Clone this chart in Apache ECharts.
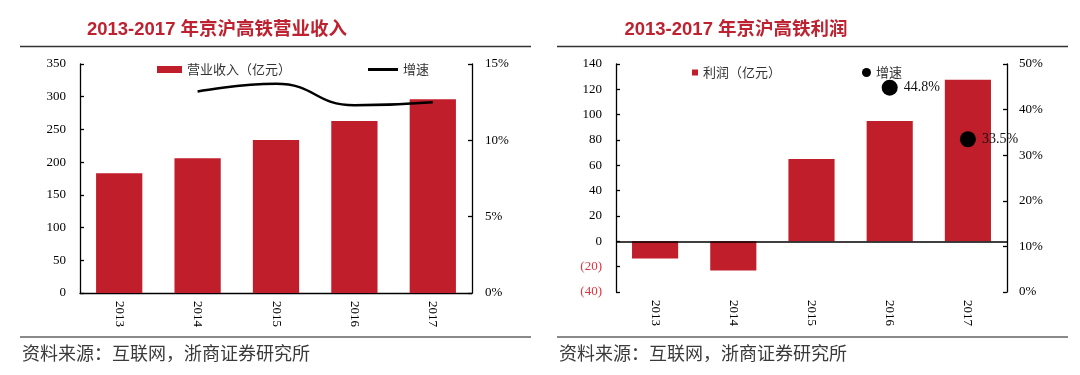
<!DOCTYPE html>
<html>
<head>
<meta charset="utf-8">
<script src="https://cdn.jsdelivr.net/npm/echarts@6/dist/echarts.min.js"></script>
<style>
html,body{margin:0;padding:0;background:#fff;}
#wrap{position:relative;width:1080px;height:375px;}
#c1{position:absolute;left:0;top:0;width:540px;height:375px;}
#c2{position:absolute;left:540px;top:0;width:540px;height:375px;}
</style>
</head>
<body>
<div id="wrap"><div id="c1"></div><div id="c2"></div></div>
<script>
// ---- data ----
const categories = ['2013', '2014', '2015', '2016', '2017'];
const revenue = [183, 206, 234, 263, 296];            // 营业收入（亿元）
const revenueGrowth = ['-', 13.2, 13.7, 12.3, 12.5];  // 增速 %
const profit = [-13.5, -23, 65, 95, 127.5];           // 利润（亿元）
const profitGrowth = ['-', '-', '-', 44.8, 33.5];     // 增速 %
const revenueTicks = { min: 0, max: 350, interval: 50 };
const revenuePctTicks = { min: 0, max: 15, interval: 5 };
const profitTicks = { min: -40, max: 140, interval: 20 };
const profitPctTicks = { min: 0, max: 50, interval: 10 };
const titles = ['2013-2017 年京沪高铁营业收入', '2013-2017 年京沪高铁利润'];
const sourceText = '资料来源：互联网，浙商证券研究所';

const RED = '#C01E2B';
const TITLE_RED = '#BE2230';
const NEG_RED = '#E4323F';
const SERIF = '"Liberation Serif","Times New Roman",serif';
const CJK = '"Noto Sans CJK SC","Noto Sans",sans-serif';

function frame(titleText, titleX, lineX1, lineX2, srcX) {
  return [
    { type: 'text', x: titleX, y: 30, style: { text: titleText, fill: TITLE_RED,
      font: 'bold 18.5px "Liberation Sans","Noto Sans CJK SC",sans-serif', textAlign: 'center', textVerticalAlign: 'middle' } },
    { type: 'line', shape: { x1: lineX1, y1: 46.5, x2: lineX2, y2: 46.5 }, style: { stroke: '#333', lineWidth: 1.3 } },
    { type: 'line', shape: { x1: lineX1, y1: 337, x2: lineX2, y2: 337 }, style: { stroke: '#8a8a8a', lineWidth: 2 } },
    { type: 'text', x: srcX, y: 353, style: { text: sourceText, fill: '#3a3a3a',
      font: '18px ' + CJK, textAlign: 'left', textVerticalAlign: 'middle' } }
  ];
}

const axisLineBlack = { show: true, lineStyle: { color: '#000', width: 1.3 } };
const tickInside = { show: true, inside: true, length: 4, lineStyle: { color: '#000', width: 1.3 } };
const labelStyle = { fontFamily: SERIF, fontSize: 13, color: '#000' };
const legendText = { fontFamily: CJK, fontSize: 13, color: '#333' };

// ---- chart 1 ----
const c1 = echarts.init(document.getElementById('c1'));
c1.setOption({
  animation: false,
  graphic: frame(titles[0], 217, 20, 531, 22),
  legend: [
    { data: [{ name: '营业收入（亿元）', icon: 'rect' }], left: 152, top: 58, itemWidth: 25, itemHeight: 7, textStyle: legendText, selectedMode: false },
    { data: [{ name: '增速', icon: 'rect' }], left: 363, top: 58, itemWidth: 30, itemHeight: 3, textStyle: legendText, selectedMode: false }
  ],
  grid: { left: 80, right: 68, top: 64, bottom: 82 },
  xAxis: {
    type: 'category', data: categories,
    axisLine: axisLineBlack, axisTick: { show: false },
    axisLabel: Object.assign({ rotate: -90, margin: 8 }, labelStyle)
  },
  yAxis: [
    Object.assign({ type: 'value', splitLine: { show: false }, axisLine: axisLineBlack, axisTick: tickInside,
      axisLabel: Object.assign({ margin: 14 }, labelStyle) }, revenueTicks),
    Object.assign({ type: 'value', position: 'right', splitLine: { show: false }, axisLine: axisLineBlack, axisTick: tickInside,
      axisLabel: Object.assign({ margin: 13, formatter: v => v + '%' }, labelStyle) }, revenuePctTicks)
  ],
  series: [
    { name: '营业收入（亿元）', type: 'bar', data: revenue, barWidth: '59%', itemStyle: { color: RED } },
    { name: '增速', type: 'line', yAxisIndex: 1, data: revenueGrowth, smooth: 0.5, showSymbol: false, symbol: 'none',
      itemStyle: { color: '#000' }, lineStyle: { color: '#000', width: 2.5 } }
  ]
});

// ---- chart 2 ----
const c2 = echarts.init(document.getElementById('c2'));
c2.setOption({
  animation: false,
  graphic: frame(titles[1], 196, 17, 528, 19),
  legend: [
    { data: [{ name: '利润（亿元）', icon: 'rect' }], left: 147, top: 61, itemWidth: 6, itemHeight: 6, textStyle: legendText, selectedMode: false },
    { data: [{ name: '增速', icon: 'circle' }], left: 317, top: 61, itemWidth: 9, itemHeight: 9, textStyle: legendText, selectedMode: false }
  ],
  grid: { left: 76, right: 73, top: 64, bottom: 83 },
  xAxis: {
    type: 'category', data: categories,
    axisLine: { show: false, onZero: false }, axisTick: { show: false },
    axisLabel: Object.assign({ rotate: -90, margin: 8 }, labelStyle)
  },
  yAxis: [
    Object.assign({ type: 'value', splitLine: { show: false }, axisLine: axisLineBlack, axisTick: tickInside,
      axisLabel: Object.assign({ margin: 14,
        formatter: v => v < 0 ? '{neg|(' + (-v) + ')}' : String(v),
        rich: { neg: { fontFamily: SERIF, fontSize: 13, color: NEG_RED } } }, labelStyle) }, profitTicks),
    Object.assign({ type: 'value', position: 'right', splitLine: { show: false }, axisLine: axisLineBlack, axisTick: tickInside,
      axisLabel: Object.assign({ margin: 12, formatter: v => v + '%' }, labelStyle) }, profitPctTicks)
  ],
  series: [
    { name: '利润（亿元）', type: 'bar', data: profit, barWidth: '59%', itemStyle: { color: RED },
      markLine: { silent: true, symbol: ['none', 'none'], label: { show: false },
        lineStyle: { color: '#000', width: 1.6, type: 'solid' }, data: [{ yAxis: 0 }] } },
    { name: '增速', type: 'scatter', yAxisIndex: 1, data: profitGrowth, symbolSize: 16,
      itemStyle: { color: '#000', opacity: 1 },
      label: { show: true, position: 'right', distance: 6, formatter: p => p.value.toFixed(1) + '%',
        fontFamily: SERIF, fontSize: 14, color: '#111' } }
  ]
});
</script>
</body>
</html>
